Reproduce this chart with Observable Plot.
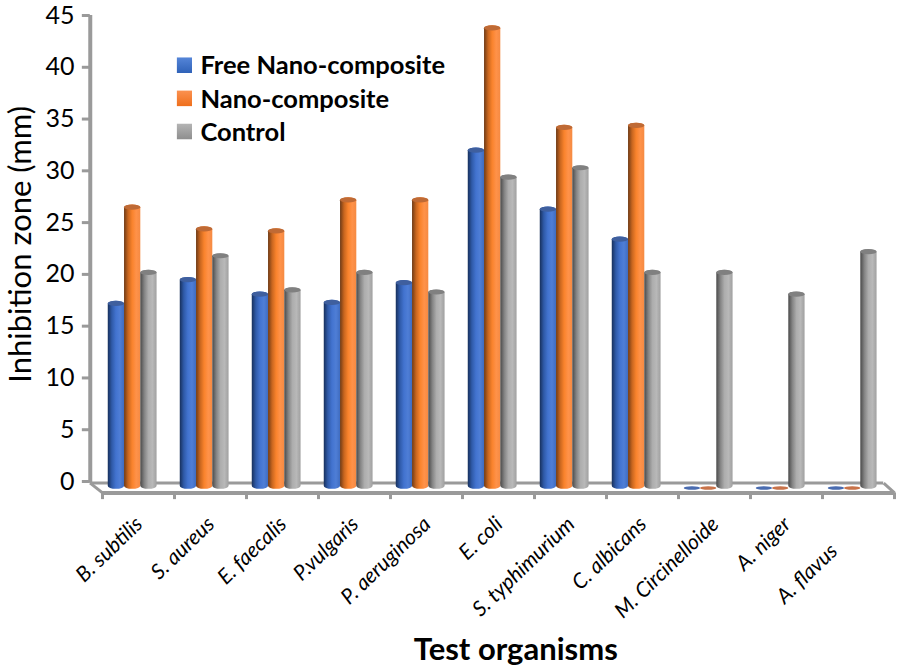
<!DOCTYPE html>
<html><head><meta charset="utf-8">
<script src="https://cdn.jsdelivr.net/npm/d3@7"></script>
<script src="https://cdn.jsdelivr.net/npm/@observablehq/plot@0.6"></script>
<style>html,body{margin:0;padding:0;background:#fff}svg{display:block}</style>
</head><body><div id="chart"></div>
<script>
const organisms = ["B. subtilis","S. aureus","E. faecalis","P.vulgaris","P. aeruginosa","E. coli","S. typhimurium","C. albicans","M. Circinelloide","A. niger","A. flavus"];
const freeNano = [17.4,19.7,18.3,17.5,19.4,32.2,26.5,23.6,0,0,0];
const nano = [26.7,24.6,24.4,27.4,27.4,44,34.4,34.6,0,0,0];
const control = [20.4,22,18.7,20.4,18.5,29.6,30.5,20.4,20.4,18.3,22.4];
const seriesNames = ["Free Nano-composite","Nano-composite","Control"];
const yTicks = [0,5,10,15,20,25,30,35,40,45];
const gradients = [
  ["gBlue",["#17305c","#2f5aa8","#4273cf","#4f7ed6","#3f6cc0"],"#4a6cb0","#3f5f9e",["#5585d8","#2f62b8"]],
  ["gOrange",["#6e3a16","#c8661f","#f9832c","#ff9249","#f58a43"],"#c8734a","#bf6a35",["#fb9150","#ef6f1c"]],
  ["gGray",["#4a4a4a","#848484","#adadad","#b8b8b8","#a0a0a0"],"#8a8a8a","#808080",["#b4b4b4","#8e8e8e"]]
];
const floorY = -0.75, floorFront = -1.1, backY = -0.15;
const gap = 0.226, start = 0.08;
const labelShift = [0,0,0,0,0,0,0,0,0,0,1];
const rows = [freeNano,nano,control].flatMap((vals,s)=>vals.map((v,i)=>({i,s,v})));
const defs = () => {
  const ns="http://www.w3.org/2000/svg";
  const d=document.createElementNS(ns,"defs");
  const make=(id,stops,vertical)=>{
    const g=document.createElementNS(ns,"linearGradient");
    g.setAttribute("id",id);
    if(vertical){g.setAttribute("x2","0");g.setAttribute("y2","1");}
    stops.forEach((c,k)=>{const st=document.createElementNS(ns,"stop");st.setAttribute("offset",k/(stops.length-1));st.setAttribute("stop-color",c);g.appendChild(st);});
    d.appendChild(g);
  };
  for(const [id,stops,,,swatch] of gradients){make(id,stops,false);make(id+"Swatch",swatch,true);}
  return d;
};
const gray="#9a9a9a";
const font="Lato";
const real=rows.filter(d=>d.v>0), flat=rows.filter(d=>d.v===0);
const chart=Plot.plot({
  width:898,height:670,margin:0,
  x:{domain:[0,11],range:[102,894],axis:null},
  y:{domain:[0,45],range:[481,15],axis:null},
  style:{fontFamily:font,background:"#fff",overflow:"visible"},
  marks:[
    defs,
    Plot.ruleX([-0.17],{y1:backY,y2:45,stroke:gray,strokeWidth:4}),
    Plot.ruleY(yTicks,{x1:-0.28,x2:-0.17,stroke:gray,strokeWidth:3}),
    Plot.ruleY([backY],{x1:-0.17,x2:10.85,stroke:gray,strokeWidth:3}),
    Plot.ruleY([floorFront],{x1:0,x2:11,stroke:gray,strokeWidth:4}),
    Plot.link([0],{x1:-0.17,y1:backY,x2:0,y2:floorFront,stroke:gray,strokeWidth:3}),
    Plot.link([0],{x1:10.85,y1:backY,x2:11,y2:floorFront,stroke:gray,strokeWidth:3}),
    Plot.ruleX(d3.range(12),{y1:floorFront,y2:-1.75,stroke:gray,strokeWidth:3}),
    // cylinder bodies and their elliptical top faces
    Plot.rectY(real,{x1:d=>d.i+start+d.s*gap,x2:d=>d.i+start+(d.s+1)*gap,y1:floorY,y2:"v",fill:d=>`url(#${gradients[d.s][0]})`,rx:8,ry:3}),
    Plot.rectY(real,{x1:d=>d.i+start+d.s*gap,x2:d=>d.i+start+(d.s+1)*gap,y1:d=>d.v-0.5,y2:"v",fill:d=>gradients[d.s][3],rx:8,ry:2.5}),
    Plot.rectY(flat,{x1:d=>d.i+start+d.s*gap,x2:d=>d.i+start+(d.s+1)*gap,y1:-0.85,y2:-0.5,fill:d=>gradients[d.s][2],rx:8,ry:1.8}),
    Plot.text(yTicks,{x:-0.39,y:d=>d,text:d=>String(d),textAnchor:"end",fontSize:25,fill:"#000"}),
    Plot.text(["Inhibition zone (mm)"],{x:-1.13,y:22.9,rotate:-90,fontSize:31,fill:"#000"}),
    Plot.text(organisms,{x:(d,i)=>i+0.51-labelShift[i]*0.35,y:(d,i)=>-3.8-labelShift[i]*2.6,text:d=>d,textAnchor:"end",rotate:-44,fontSize:21,fontStyle:"italic",lineAnchor:"middle",fill:"#000"}),
    Plot.text(["Test organisms"],{x:5.74,y:-16.3,fontSize:31,fontWeight:700,fill:"#000"}),
    Plot.rect(seriesNames,{x1:1.04,x2:1.25,y1:(d,i)=>39.4-i*3.2,y2:(d,i)=>40.9-i*3.2,fill:(d,i)=>`url(#${gradients[i][0]}Swatch)`}),
    Plot.text(seriesNames,{x:1.36,y:(d,i)=>40.1-i*3.2,text:d=>d,textAnchor:"start",fontSize:25.5,fontWeight:700,fill:"#000"})
  ]
});
document.getElementById("chart").appendChild(chart);
</script></body></html>
